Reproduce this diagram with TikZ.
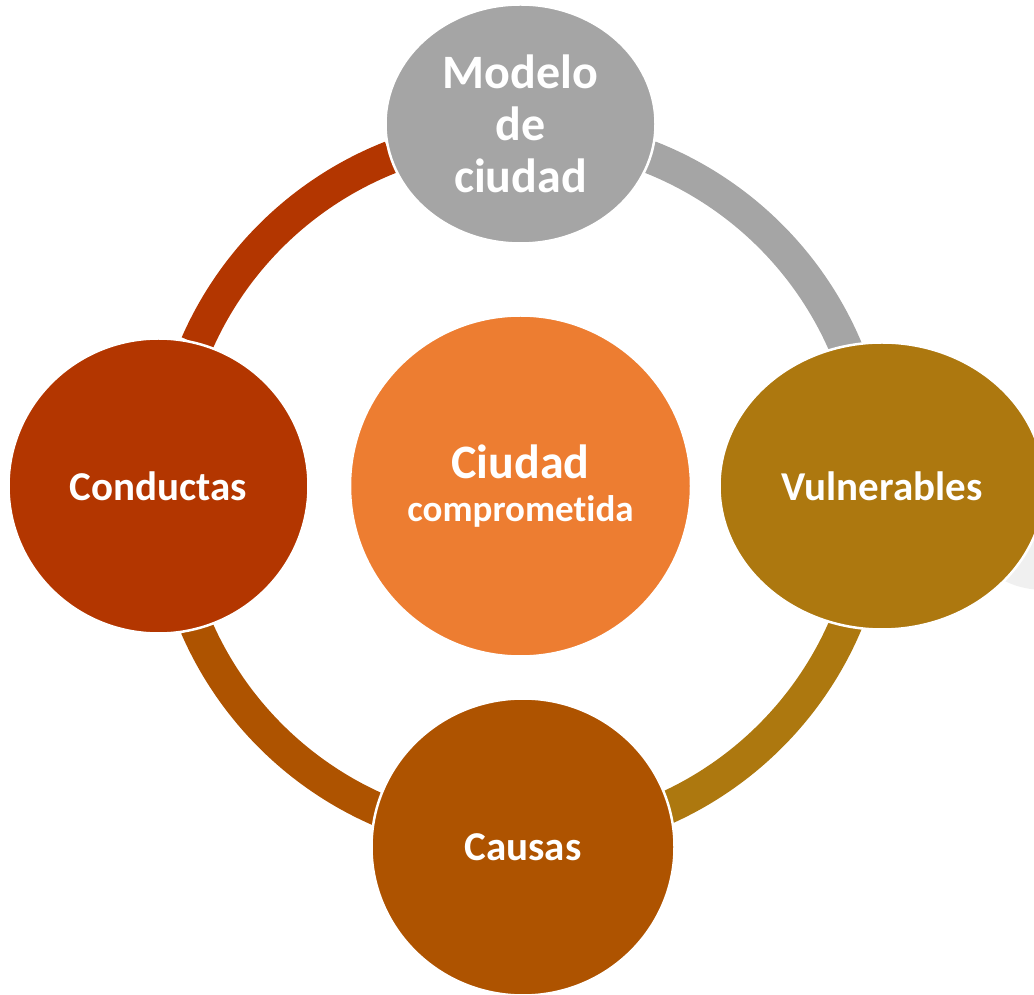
\documentclass[tikz,border=0pt]{standalone}
\usepackage{fontspec}
\setmainfont{Carlito}[Ligatures=NoCommon]
\usetikzlibrary{shapes.geometric,calc}
\definecolor{cGray}{HTML}{A5A5A5}
\definecolor{cRed}{HTML}{B33600}
\definecolor{cBrown}{HTML}{AE5300}
\definecolor{cGold}{HTML}{AD780F}
\definecolor{cOrange}{HTML}{ED7D31}
\definecolor{cShadow}{HTML}{F0F0F0}
\newcommand\ringseg[3]{\fill[#3] ($(C)+(#1:370)$) arc[start angle=#1,end angle=#2,radius=370] -- ($(C)+(#2:337)$) arc[start angle=#2,end angle=#1,radius=337] -- cycle;}
\begin{document}
\begin{tikzpicture}[x=1pt,y=1pt,
  bubble/.style={ellipse, draw=white, line width=2.5pt, inner sep=0pt, text=white,
    font=\bfseries\fontsize{41}{49}\selectfont, align=center}]
\useasboundingbox (0,0) rectangle (1034,994);
\clip (0,0) rectangle (1034,994);
\coordinate (C) at (520.5,508);
% ring segments
\ringseg{22.7}{68.6}{cGray}
\ringseg{111.5}{156.3}{cRed}
\ringseg{203.5}{246.4}{cBrown}
\ringseg{293.6}{337.3}{cGold}
% faint shadow at right edge
\fill[cShadow] (1045,439) ellipse[x radius=60, y radius=35];
% nodes
\node[bubble, fill=cGray, minimum width=270, minimum height=239,
  font=\bfseries\fontsize{48}{52}\selectfont] (top) at (520.5,870) {Modelo\\de\\ciudad};
\node[bubble, fill=cRed, minimum width=300, minimum height=295] (left) at (158.5,508) {Conductas};
\node[bubble, fill=cGold, minimum width=325, minimum height=287] (right) at (882,508) {Vulnerables};
\node[bubble, fill=cBrown, minimum width=303, minimum height=297] (bottom) at (523,147) {Causas};
\node[bubble, fill=cOrange, minimum width=341, minimum height=341,
  font=\bfseries\fontsize{37}{43}\selectfont] (center) at (520.5,508) {{\fontsize{48}{48}\selectfont Ciudad}\\comprometida};
\end{tikzpicture}
\end{document}
